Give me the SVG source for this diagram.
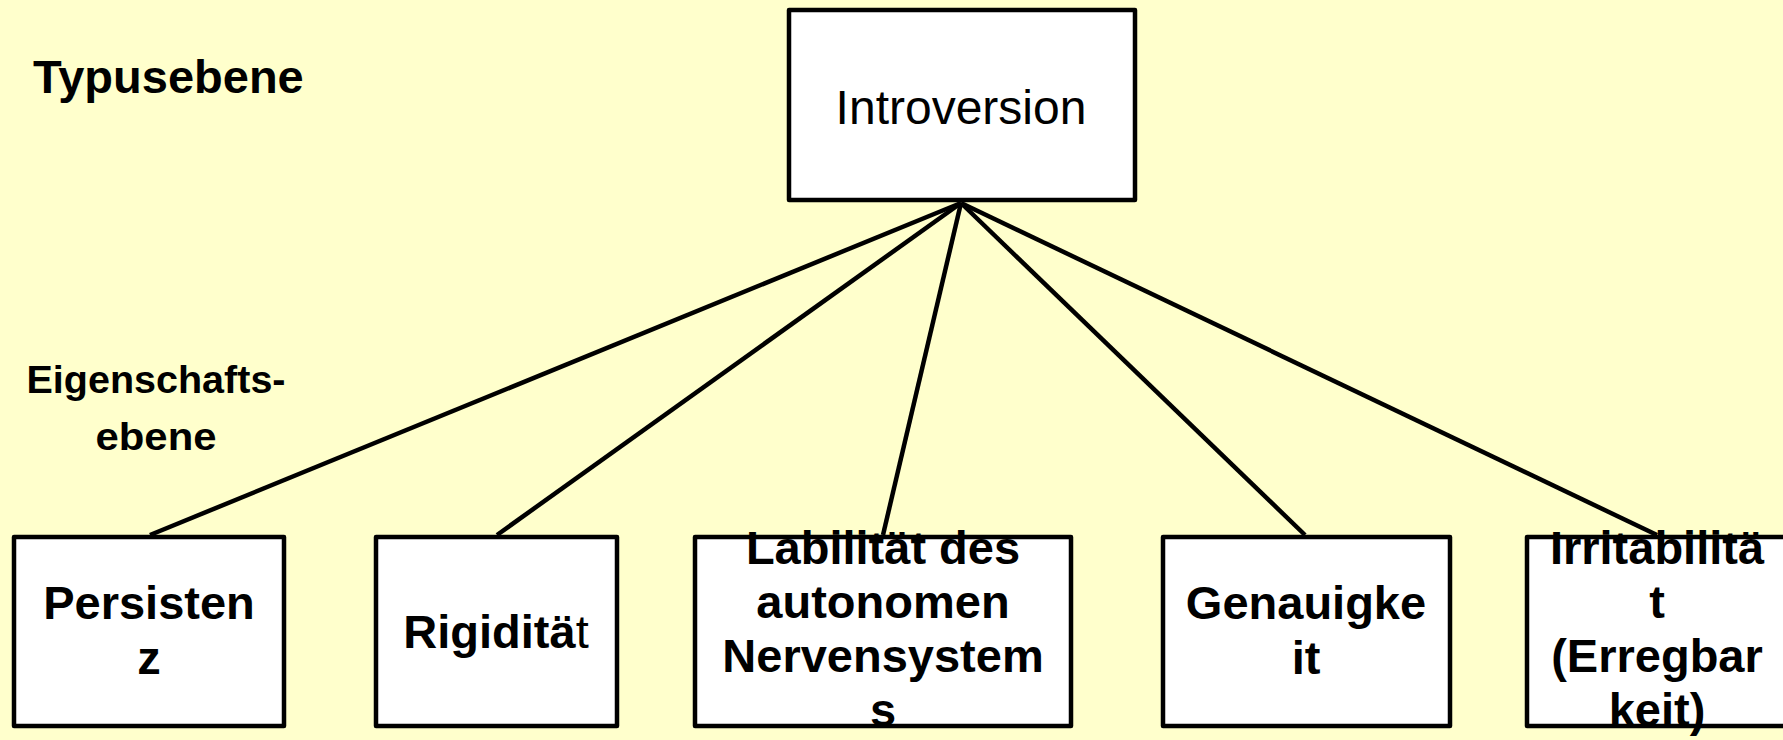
<svg xmlns="http://www.w3.org/2000/svg" width="1783" height="740" viewBox="0 0 1783 740">
<style>
.bg{fill:#FFFFCC}
.box{fill:#FFFFFF;stroke:#000;stroke-width:4.5;stroke-linejoin:round}
.edge{stroke:#000;stroke-width:4.5;fill:none}
.t{font-family:"Liberation Sans",Arial,sans-serif;font-size:47px;font-weight:bold;fill:#000;text-anchor:middle}
.lvl{font-family:"Liberation Sans",Arial,sans-serif;font-weight:bold;fill:#000}
</style>
<rect class="bg" x="0" y="0" width="1783" height="740"/>
<g id="labels">
<text class="lvl" x="33" y="93" font-size="47">Typusebene</text>
<text class="lvl" x="156" y="393" font-size="38" text-anchor="middle" textLength="259" lengthAdjust="spacingAndGlyphs">Eigenschafts-</text>
<text class="lvl" x="156" y="450" font-size="38" text-anchor="middle" textLength="121" lengthAdjust="spacingAndGlyphs">ebene</text>
</g>
<g id="connectors">
<line class="edge" x1="961" y1="203" x2="150" y2="535"/>
<line class="edge" x1="961" y1="203" x2="497" y2="535"/>
<line class="edge" x1="961" y1="203" x2="883" y2="535"/>
<line class="edge" x1="961" y1="203" x2="1305" y2="535"/>
<line class="edge" x1="961" y1="203" x2="1657" y2="535"/>
</g>
<g id="introversion">
<rect class="box" x="789" y="10" width="346" height="190"/>
<text class="t" x="961" y="124" style="font-weight:normal;font-size:48px">Introversion</text>
</g>
<g id="persistenz">
<rect class="box" x="14" y="537" width="270" height="189"/>
<text class="t" x="149" y="619">Persisten</text>
<text class="t" x="149" y="674">z</text>
</g>
<g id="rigiditaet">
<rect class="box" x="376" y="537" width="241" height="189"/>
<text class="t" x="496" y="648">Rigiditä<tspan style="font-weight:normal">t</tspan></text>
</g>
<g id="labilitaet">
<rect class="box" x="695" y="537" width="376" height="189"/>
<text class="t" x="883" y="564">Labilität des</text>
<text class="t" x="883" y="618">autonomen</text>
<text class="t" x="883" y="672">Nervensystem</text>
<text class="t" x="883" y="726">s</text>
</g>
<g id="genauigkeit">
<rect class="box" x="1163" y="537" width="287" height="189"/>
<text class="t" x="1306" y="619">Genauigke</text>
<text class="t" x="1306" y="674">it</text>
</g>
<g id="irritabilitaet">
<rect class="box" x="1527" y="537" width="264" height="189"/>
<text class="t" x="1657" y="564">Irritabilitä</text>
<text class="t" x="1657" y="618">t</text>
<text class="t" x="1657" y="672">(Erregbar</text>
<text class="t" x="1657" y="726">keit)</text>
</g>
</svg>
